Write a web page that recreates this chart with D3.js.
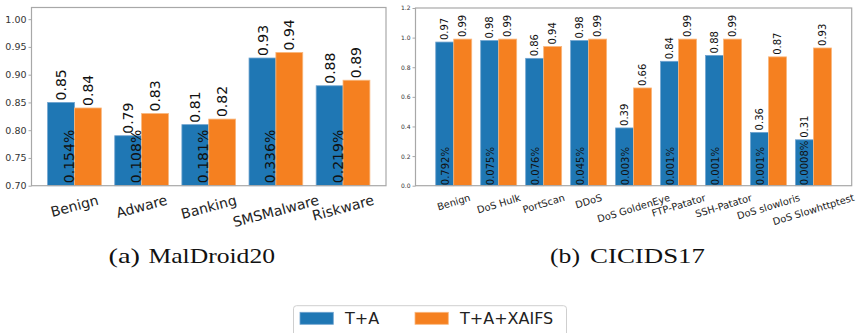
<!DOCTYPE html>
<html>
<head>
<meta charset="utf-8">
<script src="https://cdn.jsdelivr.net/npm/d3@7"></script>
<style>
  html, body { margin: 0; padding: 0; background: #fff; }
  svg { display: block; }
  text { font-family: "DejaVu Sans", sans-serif; }
</style>
</head>
<body>
<svg id="chart" width="858" height="333"></svg>
<script>
// MalDroid20 per-class scores
const malCategories = ["Benign", "Adware", "Banking", "SMSMalware", "Riskware"];
const malTA = [0.85, 0.79, 0.81, 0.93, 0.88];
const malTAXAIFS = [0.84, 0.83, 0.82, 0.94, 0.89];
const malShare = ["0.154%", "0.108%", "0.181%", "0.336%", "0.219%"];
const malYTicks = [0.70, 0.75, 0.80, 0.85, 0.90, 0.95, 1.00];

// CICIDS17 per-class scores
const cicCategories = ["Benign", "DoS Hulk", "PortScan", "DDoS", "DoS GoldenEye",
  "FTP-Patator", "SSH-Patator", "DoS slowloris", "DoS Slowhttptest"];
const cicTA = [0.97, 0.98, 0.86, 0.98, 0.39, 0.84, 0.88, 0.36, 0.31];
const cicTAXAIFS = [0.99, 0.99, 0.94, 0.99, 0.66, 0.99, 0.99, 0.87, 0.93];
const cicShare = ["0.792%", "0.075%", "0.076%", "0.045%", "0.003%", "0.001%", "0.001%", "0.001%", "0.0008%"];
const cicYTicks = [0.0, 0.2, 0.4, 0.6, 0.8, 1.0, 1.2];

const seriesNames = ["T+A", "T+A+XAIFS"];
const colors = ["#1f77b4", "#f58020"];
const edgeColors = ["#6fa3cf", "#f9b77e"];

const svg = d3.select("#chart");

function panel(cfg) {
  const g = svg.append("g");
  const x = d3.scaleLinear().domain(cfg.xDomain).range([cfg.left, cfg.right]);
  const y = d3.scaleLinear().domain(cfg.yDomain).range([cfg.bottom, cfg.top]);
  const idx = d3.range(cfg.categories.length);
  const bw = 0.4;

  // bars: T+A on the left of each category, T+A+XAIFS on the right
  [cfg.a, cfg.b].forEach((vals, s) => {
    g.selectAll(null).data(idx).join("rect")
      .attr("x", i => x(i - bw + s * bw))
      .attr("y", i => y(vals[i]))
      .attr("width", i => x(i + bw) - x(i))
      .attr("height", i => y(cfg.yDomain[0]) - y(vals[i]))
      .attr("fill", colors[s])
      .attr("stroke", edgeColors[s])
      .attr("stroke-width", 0.8);
  });

  // value labels above bars
  [cfg.a, cfg.b].forEach((vals, s) => {
    g.selectAll(null).data(idx).join("text")
      .attr("transform", i => {
        const cx = x(i - bw / 2 + s * bw) + 0.36 * cfg.valFont;
        return `translate(${cx},${y(vals[i]) - 2}) rotate(-90)`;
      })
      .attr("font-size", cfg.valFont)
      .attr("fill", "#111")
      .text(i => vals[i].toFixed(2));
  });

  // class share labels inside the T+A bars
  g.selectAll(null).data(idx).join("text")
    .attr("transform", i => `translate(${x(i - bw / 2) + cfg.shareDx},${cfg.bottom - cfg.shareDy}) rotate(-90)`)
    .attr("font-size", cfg.shareFont)
    .attr("fill", "#111")
    .text(i => cfg.share[i]);

  // frame
  g.append("rect")
    .attr("x", cfg.left).attr("y", cfg.top)
    .attr("width", cfg.right - cfg.left).attr("height", cfg.bottom - cfg.top)
    .attr("fill", "none").attr("stroke", "#a8a8a8").attr("stroke-width", 1.2);

  // y axis
  const yAxis = d3.axisLeft(y).tickValues(cfg.yTicks).tickFormat(cfg.yFormat)
    .tickSize(3).tickPadding(2);
  const ya = g.append("g").attr("transform", `translate(${cfg.left},0)`).call(yAxis);
  ya.select(".domain").remove();
  ya.selectAll(".tick line").attr("stroke", "#a8a8a8");
  ya.selectAll(".tick text").attr("font-size", cfg.yFont).attr("fill", "#333")
    .attr("font-family", "DejaVu Sans");

  // rotated category labels, centred under each group
  const theta = cfg.rot * Math.PI / 180;
  idx.forEach(i => {
    const t = g.append("text")
      .attr("font-size", cfg.xFont)
      .attr("fill", "#222")
      .attr("text-anchor", "middle")
      .attr("dominant-baseline", "central")
      .text(cfg.categories[i]);
    const w = t.node().getComputedTextLength();
    const h = 1.16 * cfg.xFont;
    const H = w * Math.sin(theta) + h * Math.cos(theta);
    t.attr("transform", `translate(${x(i)},${cfg.bottom + 6 + H / 2}) rotate(${-cfg.rot})`);
  });

  // caption
  const cap = svg.append("g").attr("font-family", "'Liberation Serif', 'DejaVu Serif', serif")
    .attr("font-size", 21).attr("fill", "#111");
  cap.append("text").attr("x", cfg.capX[0]).attr("y", 262.5)
    .attr("textLength", cfg.capW[0]).attr("lengthAdjust", "spacingAndGlyphs")
    .style("font-family", "'Liberation Serif', serif").text(cfg.capLabel);
  cap.append("text").attr("x", cfg.capX[1]).attr("y", 262.5)
    .attr("textLength", cfg.capW[1]).attr("lengthAdjust", "spacingAndGlyphs")
    .style("font-family", "'Liberation Serif', serif").text(cfg.capText);
}

panel({
  categories: malCategories, a: malTA, b: malTAXAIFS, share: malShare,
  xDomain: [-0.64, 4.64], yDomain: [0.70, 1.021], yTicks: malYTicks,
  yFormat: d3.format(".2f"),
  left: 31.5, right: 386, top: 7.5, bottom: 185.7,
  valFont: 14, shareFont: 14, shareDx: 13, shareDy: 2.5, yFont: 9.5, xFont: 14, rot: 15,
  capLabel: "(a)", capText: "MalDroid20", capX: [108.5, 148.5], capW: [31.5, 126.5]
});

panel({
  categories: cicCategories, a: cicTA, b: cicTAXAIFS, share: cicShare,
  xDomain: [-0.85, 8.85], yDomain: [0, 1.2], yTicks: cicYTicks,
  yFormat: d3.format(".1f"),
  left: 415.5, right: 851.7, top: 8, bottom: 185.7,
  valFont: 10, shareFont: 10, shareDx: 4, shareDy: 0.5, yFont: 6, xFont: 9.8, rot: 17,
  capLabel: "(b)", capText: "CICIDS17", capX: [550, 590], capW: [30, 115]
});

// legend
const lg = svg.append("g");
lg.append("rect").attr("x", 293.5).attr("y", 305.7).attr("width", 273).attr("height", 40)
  .attr("rx", 3).attr("fill", "#fff").attr("stroke", "#cfcfcf").attr("stroke-width", 1);
const legendX = [300, 415];
seriesNames.forEach((name, s) => {
  lg.append("rect").attr("x", legendX[s]).attr("y", 312.3).attr("width", 33.3).attr("height", 12)
    .attr("fill", colors[s]).attr("stroke", edgeColors[s]).attr("stroke-width", 0.8);
  lg.append("text").attr("x", legendX[s] + 45).attr("y", 324.3)
    .attr("font-size", 16).attr("fill", "#222").text(name);
});
</script>
</body>
</html>
